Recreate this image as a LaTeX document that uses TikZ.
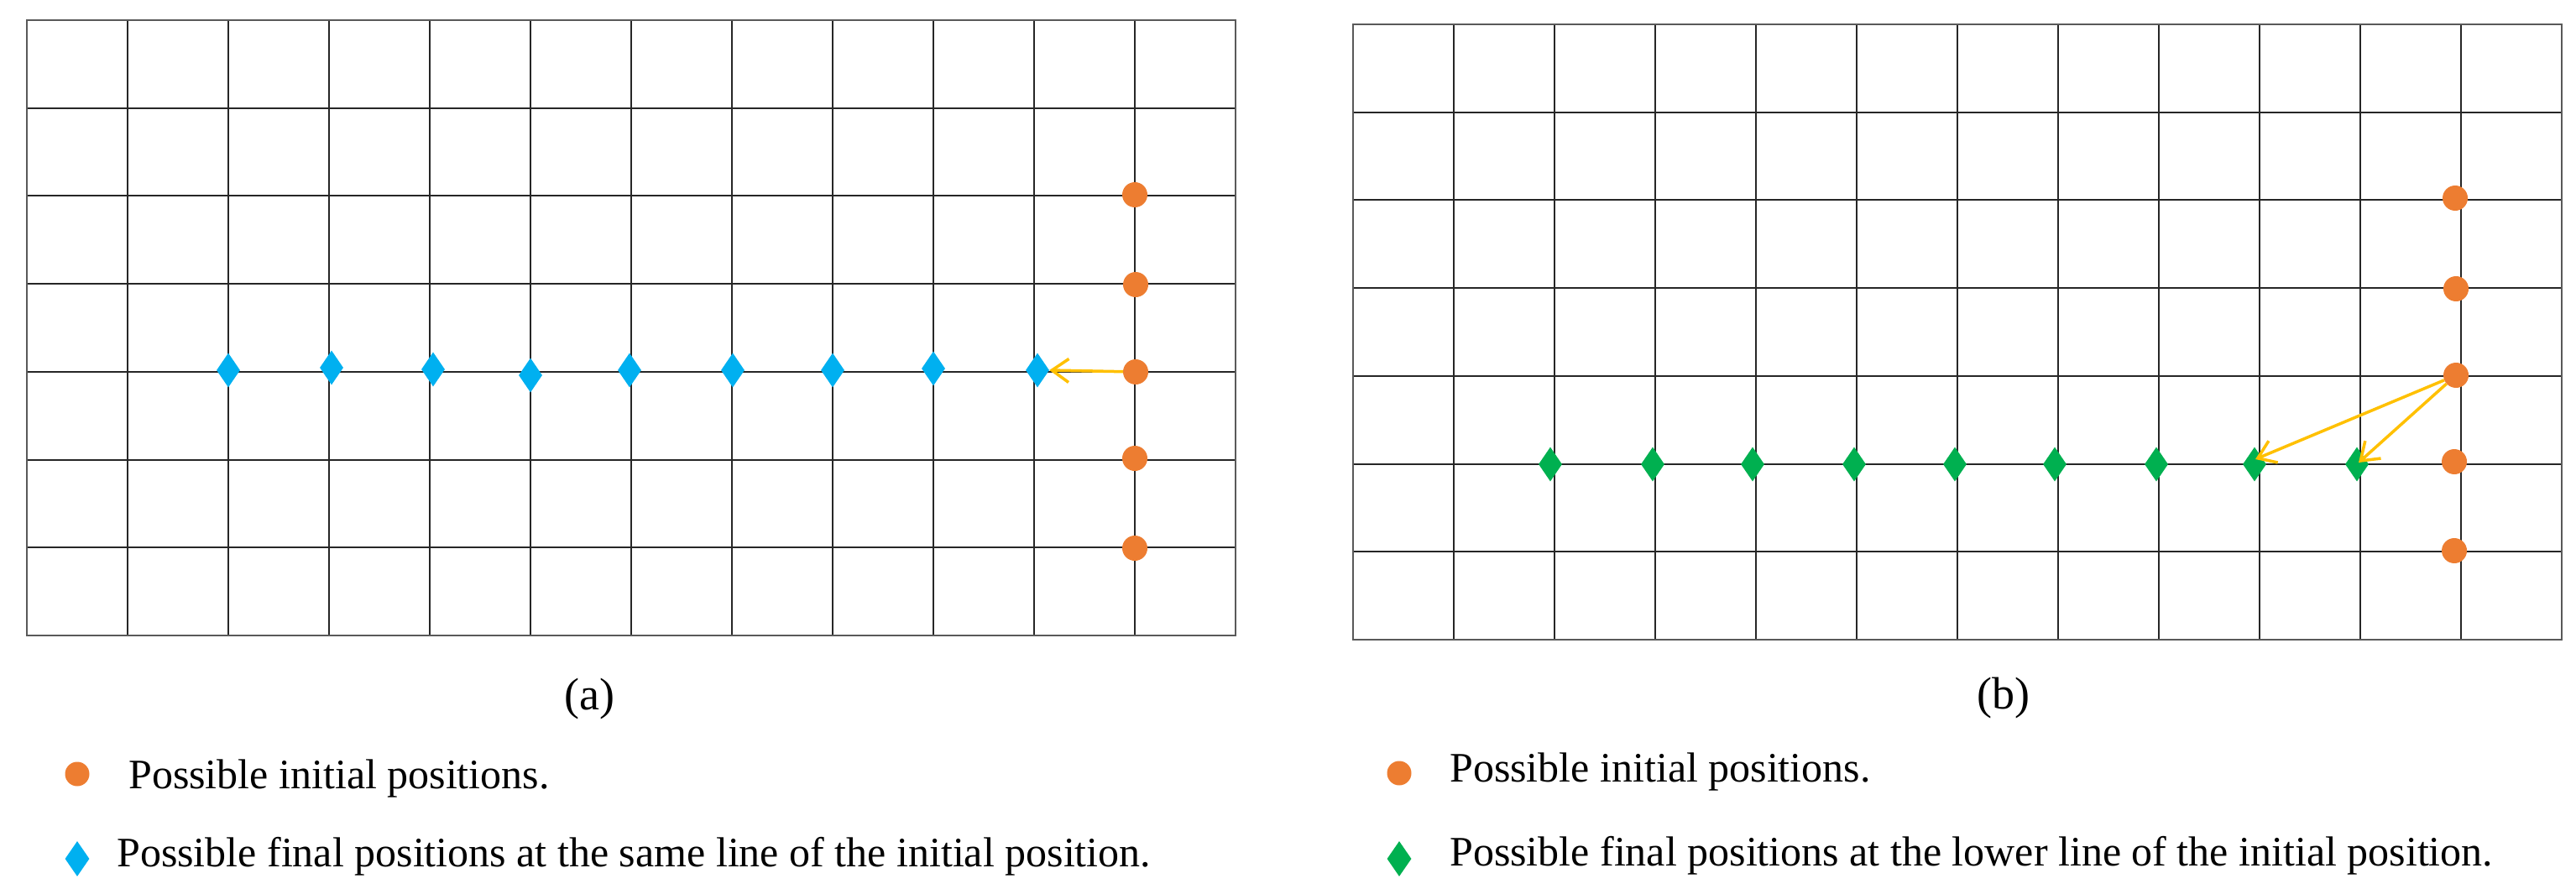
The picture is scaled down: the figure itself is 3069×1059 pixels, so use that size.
\documentclass[tikz,border=0pt]{standalone}
\usepackage{fontspec}
\setmainfont{Liberation Serif}
\usetikzlibrary{shapes.geometric,arrows.meta,calc}
\definecolor{dotorange}{HTML}{ED7D31}
\definecolor{finblue}{HTML}{00B0F0}
\definecolor{fingreen}{HTML}{00B050}
\definecolor{arrgold}{HTML}{FFC000}
\tikzset{
  gridline/.style={line width=1.9pt, draw=black!85},
  gridframe/.style={line width=2.4pt, draw=black!65},
  initdot/.style={circle, fill=dotorange, inner sep=0pt, minimum size=30pt},
  bluedia/.style={diamond, fill=finblue, inner sep=0pt, minimum width=28pt, minimum height=41pt},
  greendia/.style={diamond, fill=fingreen, inner sep=0pt, minimum width=28pt, minimum height=41pt},
  movearrow/.style={draw=arrgold, line width=3.5pt, -{Straight Barb[length=20pt,width=28pt]}},
  legendtext/.style={anchor=base west, inner sep=0pt, font=\fontsize{50}{60}\selectfont},
  captext/.style={anchor=base, inner sep=0pt, font=\fontsize{54}{64}\selectfont},
}
\begin{document}
\begin{tikzpicture}[x=1pt,y=-1pt]
\path[use as bounding box] (0,0) rectangle (3069,1059);
% ---------- grid (a)
\foreach \i in {1,...,11} \draw[gridline] ({32+\i*120},24) -- ({32+\i*120},757);
\foreach \j in {1,...,6} \draw[gridline] (32,{24+\j*104.714}) -- (1472,{24+\j*104.714});
\draw[gridframe] (32,24) rectangle (1472,757);
% ---------- grid (b)
\foreach \i in {1,...,11} \draw[gridline] ({1612+\i*120},29) -- ({1612+\i*120},762);
\foreach \j in {1,...,6} \draw[gridline] (1612,{29+\j*104.714}) -- (3052,{29+\j*104.714});
\draw[gridframe] (1612,29) rectangle (3052,762);
% ---------- markers (a)
\node[bluedia] (ba1) at (272,441) {};
\node[bluedia] (ba2) at (395,438) {};
\node[bluedia] (ba3) at (516,440) {};
\node[bluedia] (ba4) at (632,447) {};
\node[bluedia] (ba5) at (750,441) {};
\node[bluedia] (ba6) at (873,441) {};
\node[bluedia] (ba7) at (992,441) {};
\node[bluedia] (ba8) at (1112,439) {};
\node[bluedia] (ba9) at (1236,441) {};
\node[initdot] (oa1) at (1352,232) {};
\node[initdot] (oa2) at (1353,339) {};
\node[initdot] (oa3) at (1353,443) {};
\node[initdot] (oa4) at (1352,546) {};
\node[initdot] (oa5) at (1352,653) {};
\draw[movearrow] (oa3) -- (ba9.east);
% ---------- markers (b)
\node[greendia] (gb1) at (1847,553) {};
\node[greendia] (gb2) at (1969,553) {};
\node[greendia] (gb3) at (2088,553) {};
\node[greendia] (gb4) at (2209,553) {};
\node[greendia] (gb5) at (2329,553) {};
\node[greendia] (gb6) at (2448,553) {};
\node[greendia] (gb7) at (2569,553) {};
\node[greendia] (gb8) at (2686,553) {};
\node[greendia] (gb9) at (2808,553) {};
\node[initdot] (ob1) at (2925,236) {};
\node[initdot] (ob2) at (2926,344) {};
\node[initdot] (ob3) at (2926,447) {};
\node[initdot] (ob4) at (2924,550) {};
\node[initdot] (ob5) at (2924,656) {};
\draw[movearrow] (ob3) -- ($(gb8.center)+(1,-6)$);
\draw[movearrow] (ob3) -- ($(gb9.center)+(2,-2)$);
% ---------- captions
\node[captext] (capa) at (702,845) {(a)};
\node[captext] (capb) at (2387,844) {(b)};
% ---------- legend (a)
\node[initdot, minimum size=29pt] (la1) at (92,922) {};
\node[bluedia, minimum width=29pt, minimum height=42pt] (la2) at (92,1023) {};
\node[legendtext] (lta1) at (153,939) {Possible initial positions.};
\node[legendtext] (lta2) at (139,1032) {Possible final positions at the same line of the initial position.};
% ---------- legend (b)
\node[initdot, minimum size=29pt] (lb1) at (1667,921) {};
\node[greendia, minimum width=29pt, minimum height=42pt] (lb2) at (1667,1023) {};
\node[legendtext] (ltb1) at (1727,931) {Possible initial positions.};
\node[legendtext] (ltb2) at (1727,1031) {Possible final positions at the lower line of the initial position.};
\end{tikzpicture}
\end{document}
